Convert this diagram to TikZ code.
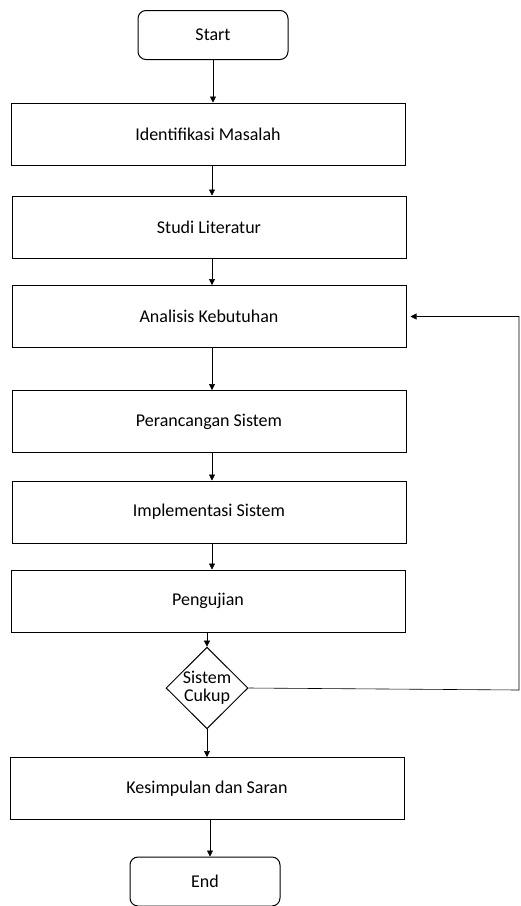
\documentclass[tikz,border=0pt]{standalone}
\usepackage{fontspec}
\setmainfont{Carlito}
\usepackage{tikz}
\usetikzlibrary{shapes.geometric, arrows.meta}

\begin{document}
\begin{tikzpicture}[x=1pt, y=-1pt, font=\fontsize{18}{21}\selectfont,
  proses/.style={draw, line width=1pt, minimum width=394pt, minimum height=62pt, inner sep=0pt},
  terminal/.style={draw, line width=1pt, rounded corners=8pt, minimum width=150pt, minimum height=49pt, inner sep=0pt},
  keputusan/.style={draw, line width=1pt, diamond, aspect=1, minimum width=82pt, minimum height=80pt, inner sep=0pt, align=center},
  alur/.style={line width=0.6pt, -{Triangle[width=6pt,length=6pt]}}]

\useasboundingbox (0,0) rectangle (521,906);

%% nodes
\node[terminal] (start) at (213,35) {Start};
\node[proses] (identifikasi) at (208,134) {Identifikasi Masalah};
\node[proses] (studi) at (209,227) {Studi Literatur};
\node[proses] (analisis) at (209,316.5) {Analisis Kebutuhan};
\node[proses] (perancangan) at (209,421.5) {Perancangan Sistem};
\node[proses] (implementasi) at (209,512) {Implementasi Sistem};
\node[proses] (pengujian) at (208,601) {Pengujian};
\node[keputusan] (cek) at (207,688) {Sistem\\[-3pt]Cukup};
\node[proses] (kesimpulan) at (207,788.5) {Kesimpulan dan Saran};
\node[terminal] (end) at (205,881.5) {End};

\coordinate (belok) at (519,690);

%% alur utama
\draw[alur] (start.south -| 213,0) -- (213,0 |- identifikasi.north);
\draw[alur] (212,0 |- identifikasi.south) -- (212,0 |- studi.north);
\draw[alur] (212,0 |- studi.south) -- (212,0 |- analisis.north);
\draw[alur] (212,0 |- analisis.south) -- (212,0 |- perancangan.north);
\draw[alur] (212,0 |- perancangan.south) -- (212,0 |- implementasi.north);
\draw[alur] (212,0 |- implementasi.south) -- (212,0 |- pengujian.north);
\draw[alur] (207,0 |- pengujian.south) -- (cek.north);
\draw[alur] (cek.south) -- (207,0 |- kesimpulan.north);
\draw[alur] (210,0 |- kesimpulan.south) -- (210,0 |- end.north);

%% kembali
\draw[alur] (cek.east) -- (belok) -- (belok |- analisis.east) -- ([xshift=4pt]analisis.east);

\end{tikzpicture}
\end{document}
